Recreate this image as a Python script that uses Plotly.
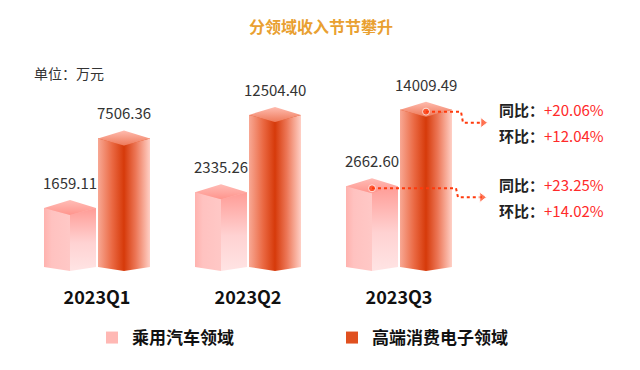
import math
import plotly.graph_objects as go

# ---------------- data ----------------
categories = ["2023Q1", "2023Q2", "2023Q3"]
car_values = [1659.11, 2335.26, 2662.60]
elec_values = [7506.36, 12504.40, 14009.49]
series_names = ["乘用汽车领域", "高端消费电子领域"]
growth_labels = ["同比：", "环比："]
elec_growth = ["+20.06%", "+12.04%"]
car_growth = ["+23.25%", "+14.02%"]

# ---------------- layout constants ----------------
W, H = 640, 370
MB = 85
PLOT_H = H - MB
PXD = 106.3            # pixels per decade on the (hidden) log axis
BASE_LOG = 2.666
BASE = 10 ** BASE_LOG
R0 = BASE_LOG - 18 / PXD
R1 = R0 + PLOT_H / PXD
XPX = 151.0            # pixels per category unit
X0 = -97 / XPX
X1 = (W - 97) / XPX
BW = 52 / XPX
CAR_OFF = -BW - 1 / XPX
ELEC_OFF = 1 / XPX
FONT = "Noto Sans CJK SC"


def f(px):
    return 10 ** (px / PXD)


fig = go.Figure()

fig.add_trace(go.Bar(x=list(range(3)), y=[v - BASE for v in car_values], base=BASE,
                     offset=CAR_OFF, width=BW, name="<b>" + series_names[0] + "</b>",
                     marker=dict(color="#ffb8b4", line=dict(width=0)),
                     customdata=car_values, hovertemplate="%{customdata}<extra></extra>"))
fig.add_trace(go.Bar(x=list(range(3)), y=[v - BASE for v in elec_values], base=BASE,
                     offset=ELEC_OFF, width=BW, name="<b>" + series_names[1] + "</b>",
                     marker=dict(color="#e0501f", line=dict(width=0)),
                     customdata=elec_values, hovertemplate="%{customdata}<extra></extra>"))

styles = {
    "car": dict(
        left=("horizontal", [[0, "#ffb2ae"], [0.3, "#ffc2c0"], [1, "#ffc8c6"]]),
        right=("vertical", [[0, "#ffe4e4"], [0.45, "#ffd2d2"], [1, "#ff9c96"]]),
        cap=("vertical", [[0, "#ff948c"], [1, "#ffbcb6"]]),
    ),
    "elec": dict(
        left=("horizontal", [[0, "#f8a894"], [0.55, "#ea6842"], [1, "#d63a0a"]]),
        right=("horizontal", [[0, "#d63a0a"], [0.45, "#ec7656"], [1, "#ffd0c6"]]),
        cap=("vertical", [[0, "#ee7a5a"], [1, "#ffbcb0"]]),
    ),
}


def poly(xs, ys, style):
    t, cs = style
    fig.add_trace(go.Scatter(x=xs + [xs[0]], y=ys + [ys[0]], mode="lines", fill="toself",
                             fillgradient=dict(type=t, colorscale=cs),
                             line=dict(width=0), hoverinfo="skip", showlegend=False))


for key, vals, off in (("car", car_values, CAR_OFF), ("elec", elec_values, ELEC_OFF)):
    st = styles[key]
    for i, v in enumerate(vals):
        xl = i + off
        xr = xl + BW
        xc = xl + BW / 2
        capb = v / f(7)
        peak = v * f(8)
        bv = BASE / f(4)
        poly([xl, xl, xc, xc], [BASE, v, capb, bv], st["left"])
        poly([xc, xc, xr, xr], [bv, capb, v, BASE], st["right"])
        poly([xl, xc, xr, xc], [v, peak, v, capb], st["cap"])
        fig.add_annotation(x=xc, y=math.log10(peak), text=f"{v:.2f}",
                           showarrow=False, yanchor="bottom", yshift=5,
                           font=dict(family=FONT, size=15, color="#333333"))

# ---------------- arrows + growth text ----------------
arrow_specs = [
    (elec_values[2], 2 + ELEC_OFF + BW / 2, (461 - 97) / XPX, (487 - 97) / XPX, 11, elec_growth),
    (car_values[2], 2 + CAR_OFF + BW / 2, (456 - 97) / XPX, (486 - 97) / XPX, 9, car_growth),
]
for v, xs, xt, xe, step, labels in arrow_specs:
    ys = v / f(2)
    yt = ys / f(step)
    fig.add_trace(go.Scatter(x=[xs, xt, xt + 2 / XPX, xe - 4 / XPX], y=[ys, ys, yt, yt],
                             mode="lines", line=dict(color="#ff3a0c", width=2, dash="dot"),
                             hoverinfo="skip", showlegend=False))
    fig.add_trace(go.Scatter(x=[xs, xe - 4 / XPX], y=[ys, yt], mode="markers",
                             marker=dict(color="#ff3a0c", size=[7, 9],
                                         symbol=["circle", "triangle-right"]),
                             hoverinfo="skip", showlegend=False))
    for k, (lab, g) in enumerate(zip(growth_labels, labels)):
        fig.add_annotation(x=(497 - 97) / XPX, y=math.log10(yt), xanchor="left", yanchor="middle",
                           yshift=13 - 26 * k, showarrow=False,
                           text=f"<b>{lab}</b><span style='color:#ff2a2a'>{g}</span>",
                           font=dict(family=FONT, size=15, color="#222222"))

# ---------------- titles ----------------
fig.add_annotation(xref="paper", yref="paper", x=0.501, y=1 - 26 / PLOT_H, yanchor="middle",
                   text="<b>分领域收入节节攀升</b>",
                   showarrow=False, font=dict(family=FONT, size=16, color="#E9A030"))
fig.add_annotation(xref="paper", yref="paper", x=32 / W, y=1 - 73 / PLOT_H, xanchor="left",
                   yanchor="middle", text="单位：万元", showarrow=False,
                   font=dict(family=FONT, size=14, color="#333333"))

fig.update_layout(
    width=W, height=H, margin=dict(l=0, r=0, t=0, b=MB),
    paper_bgcolor="white", plot_bgcolor="white",
    barmode="overlay",
    xaxis=dict(range=[X0, X1], tickvals=[0, 1, 2], ticktext=["<b>" + c + "</b>" for c in categories],
               showgrid=False, zeroline=False, showline=False, ticks="",
               tickfont=dict(family=FONT, size=18, color="#111111")),
    yaxis=dict(type="log", range=[R0, R1], visible=False, showgrid=False),
    legend=dict(orientation="h", x=92 / W, xanchor="left", y=-(338 - PLOT_H) / PLOT_H, yanchor="middle",
                entrywidth=195, entrywidthmode="pixels",
                font=dict(family=FONT, size=17, color="#111111")),
    font=dict(family=FONT),
    showlegend=True,
)

fig.write_html("out.html")
